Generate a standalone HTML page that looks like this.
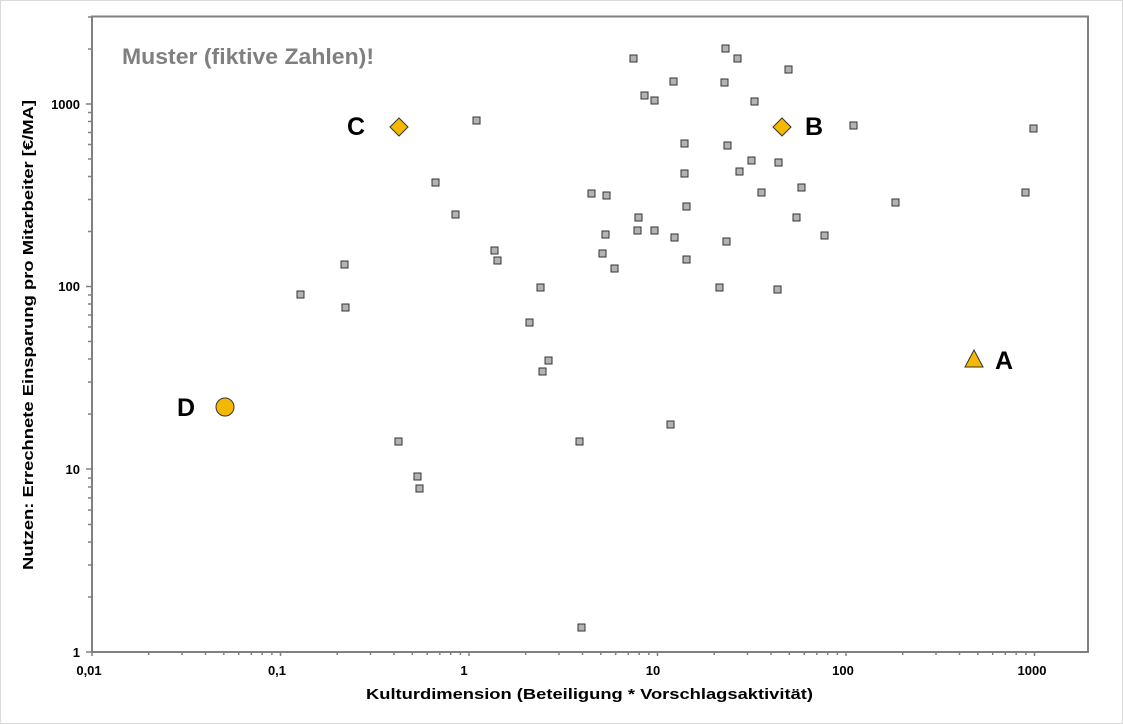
<!DOCTYPE html>
<html><head><meta charset="utf-8"><style>
body{margin:0;background:#fff}
svg{display:block;font-family:"Liberation Sans",Arial,sans-serif}
</style></head><body>
<svg width="1123" height="724" viewBox="0 0 1123 724" xmlns="http://www.w3.org/2000/svg">
<rect x="0.5" y="0.5" width="1122" height="723" fill="#fff" stroke="#d9d9d9"/>
<rect x="92" y="16.5" width="996" height="635.5" fill="#fff" stroke="#808080" stroke-width="2"/>
<g font-size="13" font-weight="bold" fill="#000">
<text x="89" y="675" text-anchor="middle">0,01</text>
<text x="277" y="675" text-anchor="middle">0,1</text>
<text x="464" y="675" text-anchor="middle">1</text>
<text x="653" y="675" text-anchor="middle">10</text>
<text x="843" y="675" text-anchor="middle">100</text>
<text x="1032" y="675" text-anchor="middle">1000</text>
<text x="80" y="657" text-anchor="end">1</text>
<text x="80" y="474" text-anchor="end">10</text>
<text x="80" y="291" text-anchor="end">100</text>
<text x="80" y="109" text-anchor="end">1000</text>
<text x="366" y="699" font-size="15" textLength="447" lengthAdjust="spacingAndGlyphs">Kulturdimension (Beteiligung * Vorschlagsaktivität)</text>
<text transform="translate(33,570) rotate(-90)" font-size="15" textLength="470" lengthAdjust="spacingAndGlyphs">Nutzen: Errechnete Einsparung pro Mitarbeiter [€/MA]</text>
</g>
<text x="122" y="64" font-size="22" font-weight="bold" fill="#808080" textLength="252" lengthAdjust="spacingAndGlyphs">Muster (fiktive Zahlen)!</text>
<g fill="#b3b3b3" stroke="#333" stroke-width="1">
<rect x="630" y="55" width="7" height="7"/><rect x="722" y="45" width="7" height="7"/><rect x="734" y="55" width="7" height="7"/><rect x="785" y="66" width="7" height="7"/>
<rect x="670" y="78" width="7" height="7"/><rect x="721" y="79" width="7" height="7"/><rect x="641" y="92" width="7" height="7"/><rect x="651" y="97" width="7" height="7"/><rect x="751" y="98" width="7" height="7"/>
<rect x="473" y="117" width="7" height="7"/><rect x="850" y="122" width="7" height="7"/><rect x="1030" y="125" width="7" height="7"/>
<rect x="681" y="140" width="7" height="7"/><rect x="724" y="142" width="7" height="7"/><rect x="748" y="157" width="7" height="7"/><rect x="775" y="159" width="7" height="7"/><rect x="681" y="170" width="7" height="7"/><rect x="736" y="168" width="7" height="7"/>
<rect x="432" y="179" width="7" height="7"/><rect x="798" y="184" width="7" height="7"/><rect x="588" y="190" width="7" height="7"/><rect x="603" y="192" width="7" height="7"/><rect x="758" y="189" width="7" height="7"/><rect x="1022" y="189" width="7" height="7"/>
<rect x="452" y="211" width="7" height="7"/><rect x="683" y="203" width="7" height="7"/><rect x="892" y="199" width="7" height="7"/><rect x="635" y="214" width="7" height="7"/><rect x="793" y="214" width="7" height="7"/>
<rect x="651" y="227" width="7" height="7"/><rect x="634" y="227" width="7" height="7"/><rect x="602" y="231" width="7" height="7"/><rect x="671" y="234" width="7" height="7"/><rect x="723" y="238" width="7" height="7"/><rect x="821" y="232" width="7" height="7"/>
<rect x="491" y="247" width="7" height="7"/><rect x="599" y="250" width="7" height="7"/><rect x="494" y="257" width="7" height="7"/><rect x="683" y="256" width="7" height="7"/><rect x="611" y="265" width="7" height="7"/>
<rect x="341" y="261" width="7" height="7"/><rect x="297" y="291" width="7" height="7"/><rect x="537" y="284" width="7" height="7"/><rect x="716" y="284" width="7" height="7"/><rect x="774" y="286" width="7" height="7"/>
<rect x="342" y="304" width="7" height="7"/><rect x="526" y="319" width="7" height="7"/><rect x="545" y="357" width="7" height="7"/><rect x="539" y="368" width="7" height="7"/>
<rect x="395" y="438" width="7" height="7"/><rect x="576" y="438" width="7" height="7"/><rect x="667" y="421" width="7" height="7"/><rect x="414" y="473" width="7" height="7"/><rect x="416" y="485" width="7" height="7"/><rect x="578" y="624" width="7" height="7"/>
</g>
<g fill="#f5b800" stroke="#333" stroke-width="1">
<polygon points="399,118 408,127 399,136 390,127"/>
<polygon points="782,118 791,127 782,136 773,127"/>
<polygon points="974,350 983,367 965,367"/>
<circle cx="225" cy="407" r="9"/>
</g>
<g font-size="25" font-weight="bold" fill="#000">
<text x="347" y="135">C</text><text x="805" y="135">B</text><text x="995" y="369">A</text><text x="177" y="416">D</text>
</g>
<g stroke="#808080" stroke-width="1.5">
<path d="M92,652v4 M280.5,652v4 M469,652v4 M657.5,652v4 M846,652v4 M1034.5,652v4"/>
<path d="M148.7,652v3 M182,652v3 M205.5,652v3 M223.8,652v3 M238.7,652v3 M251.3,652v3 M262.2,652v3 M271.9,652v3
M337.2,652v3 M370.5,652v3 M394,652v3 M412.3,652v3 M427.2,652v3 M439.8,652v3 M450.7,652v3 M460.4,652v3
M525.7,652v3 M559,652v3 M582.5,652v3 M600.8,652v3 M615.7,652v3 M628.3,652v3 M639.2,652v3 M648.9,652v3
M714.2,652v3 M747.5,652v3 M771,652v3 M789.3,652v3 M804.2,652v3 M816.8,652v3 M827.7,652v3 M837.4,652v3
M902.7,652v3 M936,652v3 M959.5,652v3 M977.8,652v3 M992.7,652v3 M1005.3,652v3 M1016.2,652v3 M1025.9,652v3"/>
<path d="M86,652h6 M86,469h6 M86,286.5h6 M86,104h6"/>
<path d="M88,597h4 M88,565h4 M88,542h4 M88,524.5h4 M88,510h4 M88,498h4 M88,487h4 M88,478h4
M88,414h4 M88,382h4 M88,359h4 M88,341.5h4 M88,327h4 M88,315h4 M88,304h4 M88,295h4
M88,231.5h4 M88,199.5h4 M88,176.5h4 M88,159h4 M88,144.5h4 M88,132.5h4 M88,121.5h4 M88,112.5h4
M88,49h4 M88,17h4"/>
</g>
</svg>
</body></html>
